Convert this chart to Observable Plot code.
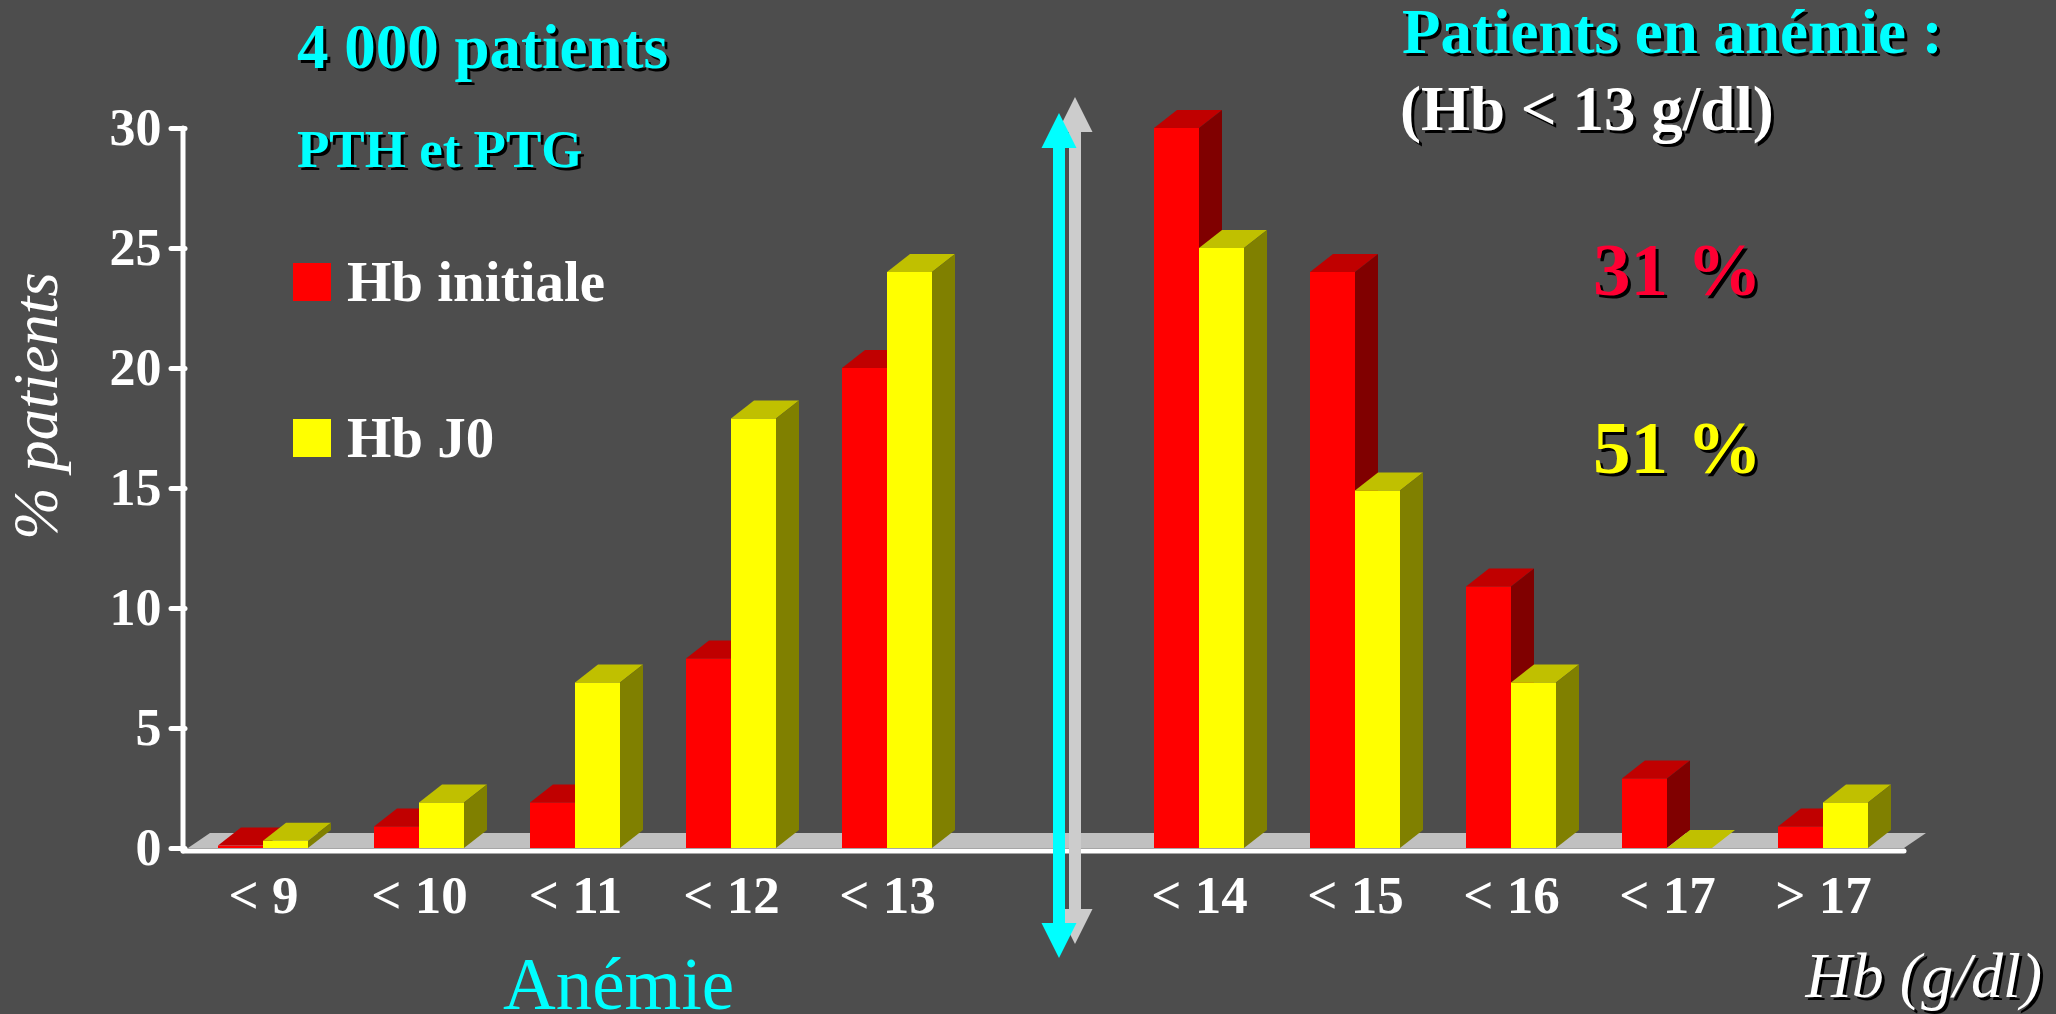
<!DOCTYPE html>
<html>
<head>
<meta charset="utf-8">
<script src="https://cdn.jsdelivr.net/npm/d3@7"></script>
<script src="https://cdn.jsdelivr.net/npm/@observablehq/plot@0.6"></script>
<style>
  html, body { margin: 0; padding: 0; background: #4d4d4d; overflow: hidden; }
  #wrap { position: relative; width: 2056px; height: 1014px; }
  #wrap > svg { position: absolute; left: 0; top: 0; }
</style>
</head>
<body>
<div id="wrap"></div>
<script>
// Hb classes (g/dl); the blank slot separates anaemic from non-anaemic classes
const categories = ["< 9", "< 10", "< 11", "< 12", "< 13", " ", "< 14", "< 15", "< 16", "< 17", "> 17"];
const gapKey = " ";
const hbClasses = ["< 9", "< 10", "< 11", "< 12", "< 13", "< 14", "< 15", "< 16", "< 17", "> 17"];
const anaemicClasses = ["< 9", "< 10", "< 11", "< 12", "< 13"];
// % of patients per class
const hbInitiale = [0.1, 0.9, 1.9, 7.9, 20, 30, 24, 10.9, 2.9, 0.9];
const hbJ0 = [0.3, 1.9, 6.9, 17.9, 24, 25, 14.9, 6.9, 0, 1.9];
const yTicks = [0, 5, 10, 15, 20, 25, 30];
const seriesNames = ["Hb initiale", "Hb J0"];

const title = "4 000 patients";
const subtitle = "PTH et PTG";
const anaemiaTitle = "Patients en anémie :";
const anaemiaRule = "(Hb < 13 g/dl)";
const yLabel = "% patients";
const xLabel = "Hb (g/dl)";
const gapLabel = "Anémie";

const W = 2056, H = 1014;
const FONT = "'Liberation Serif', 'Times New Roman', serif";
const DEPTH_X = 23, DEPTH_Y = 18;
const BAR_INSET_NEAR = 33, BAR_INSET_FAR = 78;

const styles = [
  {front: "#ff0000", top: "#c00000", side: "#800000"},
  {front: "#ffff00", top: "#c0c000", side: "#808000"}
];

const rowsInitiale = hbClasses.map((c, i) => ({cls: c, value: hbInitiale[i]}));
const rowsJ0 = hbClasses.map((c, i) => ({cls: c, value: hbJ0[i]}));

const anaemicShare = values =>
  d3.sum(hbClasses.map((c, i) => anaemicClasses.includes(c) ? values[i] : 0));

// top and side faces of the extruded bars
function faces(rows, insetLeft, insetRight, style) {
  return (index, scales) => {
    const g = d3.create("svg:g");
    const bw = scales.x.bandwidth ? scales.x.bandwidth() : 156;
    for (const d of rows) {
      const x0 = scales.x(d.cls) + insetLeft;
      const x1 = scales.x(d.cls) + bw - insetRight;
      const yt = scales.y(d.value), yb = scales.y(0);
      g.append("polygon")
        .attr("points", [[x0, yt], [x0 + DEPTH_X, yt - DEPTH_Y], [x1 + DEPTH_X, yt - DEPTH_Y], [x1, yt]].join(" "))
        .attr("fill", style.top);
      g.append("polygon")
        .attr("points", [[x1, yt], [x1 + DEPTH_X, yt - DEPTH_Y], [x1 + DEPTH_X, yb - DEPTH_Y], [x1, yb]].join(" "))
        .attr("fill", style.side);
    }
    return g.node();
  };
}

// grey floor under the bars
function floor(index, scales, values, dims) {
  const x0 = dims.marginLeft, x1 = dims.width - dims.marginRight, y0 = scales.y(0);
  return d3.create("svg:polygon")
    .attr("points", [[x0 + 3, y0], [x1 + 3, y0], [x1 + 25, y0 - 15], [x0 + 25, y0 - 15]].join(" "))
    .attr("fill", "#c0c0c0")
    .node();
}

// white axis lines
function axisLines(index, scales, values, dims) {
  const x0 = dims.marginLeft, x1 = dims.width - dims.marginRight;
  const y0 = scales.y(0), yMax = scales.y(d3.max(yTicks));
  const g = d3.create("svg:g").attr("stroke", "white").attr("stroke-width", 5).attr("stroke-linecap", "round");
  g.append("line").attr("x1", x0 - 2).attr("x2", x0 - 2).attr("y1", yMax).attr("y2", y0 + 3);
  g.append("line").attr("x1", x0 - 2).attr("x2", x1 + 3).attr("y1", y0 + 3).attr("y2", y0 + 3);
  return g.node();
}

// double-headed arrow in the blank slot, splitting anaemic from normal Hb
function divider(index, scales) {
  const bw = scales.x.bandwidth ? scales.x.bandwidth() : 156;
  const cx = scales.x(gapKey) + bw / 2;
  const yTop = scales.y(d3.max(yTicks)), y0 = scales.y(0);
  const g = d3.create("svg:g");
  const arrow = (x, top, bottom, fill) => {
    const s = 6, hw = 17.5, hl = 35;
    g.append("polygon").attr("fill", fill).attr("points", [
      [x, top], [x + hw, top + hl], [x + s, top + hl], [x + s, bottom - hl], [x + hw, bottom - hl],
      [x, bottom], [x - hw, bottom - hl], [x - s, bottom - hl], [x - s, top + hl], [x - hw, top + hl]
    ].join(" "));
  };
  arrow(cx + 32, yTop - 31, y0 + 96, "#cccccc");
  arrow(cx + 16, yTop - 15, y0 + 110, "#00ffff");
  return g.node();
}

const chart = Plot.plot({
  width: W,
  height: H,
  marginLeft: 185,
  marginRight: 155,
  marginTop: 128,
  marginBottom: 166,
  style: {background: "transparent", color: "white", fontFamily: FONT, overflow: "visible"},
  x: {domain: categories, padding: 0, label: null},
  y: {domain: [0, 30], label: null},
  marks: [
    floor,
    Plot.barY(rowsInitiale, {x: "cls", y: "value", fill: styles[0].front, insetLeft: BAR_INSET_NEAR, insetRight: BAR_INSET_FAR}),
    faces(rowsInitiale, BAR_INSET_NEAR, BAR_INSET_FAR, styles[0]),
    Plot.barY(rowsJ0, {x: "cls", y: "value", fill: styles[1].front, insetLeft: BAR_INSET_FAR, insetRight: BAR_INSET_NEAR}),
    faces(rowsJ0, BAR_INSET_FAR, BAR_INSET_NEAR, styles[1]),
    axisLines,
    Plot.axisY({ticks: yTicks, tickSize: 14, tickPadding: 10, fontSize: 52, fontWeight: "bold", strokeWidth: 5, strokeLinecap: "round", color: "white", label: null}),
    Plot.axisX({tickSize: 0, tickPadding: 27, fontSize: 53, fontWeight: "bold", color: "white", label: null}),
    divider
  ]
});

const wrap = document.getElementById("wrap");
wrap.appendChild(chart);

// titles, legend and notes
const overlay = d3.create("svg").attr("width", W).attr("height", H)
  .style("font-family", FONT).style("pointer-events", "none");

function note(text, x, y, {size, weight = "bold", style = "normal", fill, shadow = false, anchor = "start", transform = null}) {
  const add = (dx, dy, color) => {
    const t = overlay.append("text")
      .attr("x", x + dx).attr("y", y + dy)
      .attr("font-size", size).attr("font-weight", weight).attr("font-style", style)
      .attr("text-anchor", anchor).attr("fill", color).text(text);
    if (transform) t.attr("transform", transform);
  };
  if (shadow) add(3, 3, "#000");
  add(0, 0, fill);
}

note(title, 297, 68, {size: 63, fill: "#00ffff", shadow: true});
note(subtitle, 297, 167, {size: 53, fill: "#00ffff", shadow: true});

seriesNames.forEach((name, i) => {
  const top = 263 + i * 156;
  overlay.append("rect").attr("x", 293).attr("y", top).attr("width", 38).attr("height", 38).attr("fill", styles[i].front);
  note(name, 347, top + 38, {size: 57, fill: "white"});
});

note(anaemiaTitle, 1402, 53, {size: 63, fill: "#00ffff", shadow: true});
note(anaemiaRule, 1400, 130, {size: 63, fill: "white", shadow: true});
note(`${Math.round(anaemicShare(hbInitiale))} %`, 1593, 295, {size: 75, fill: "#ff0033", shadow: true});
note(`${Math.round(anaemicShare(hbJ0))} %`, 1593, 473, {size: 75, fill: "#ffff00", shadow: true});

note(xLabel, 2042, 997, {size: 64, weight: "normal", style: "italic", fill: "white", shadow: true, anchor: "end"});
note(gapLabel, 503, 1009, {size: 73, weight: "normal", fill: "#00ffff"});
note(yLabel, 0, 0, {size: 63, weight: "normal", style: "italic", fill: "white", anchor: "middle", transform: "translate(57,406) rotate(-90)"});

wrap.appendChild(overlay.node());
</script>
</body>
</html>
